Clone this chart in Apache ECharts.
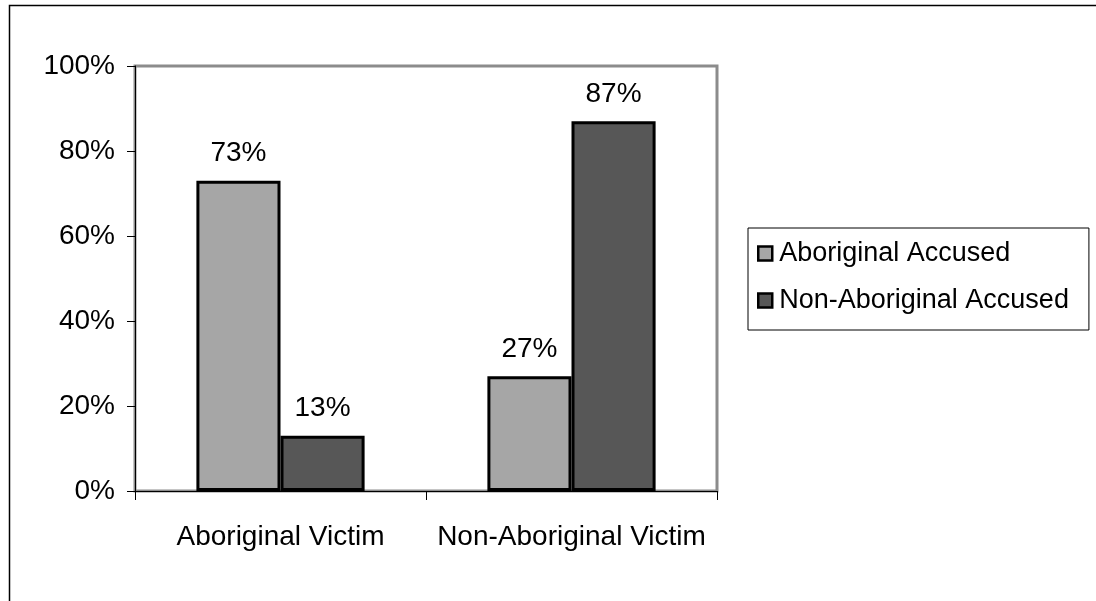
<!DOCTYPE html>
<html>
<head>
<meta charset="utf-8">
<script src="https://cdn.jsdelivr.net/npm/echarts@6/dist/echarts.min.js"></script>
<style>
  html, body { margin: 0; padding: 0; background: #fff; }
  #chart { width: 1096px; height: 601px; }
</style>
</head>
<body>
<div id="chart"></div>
<script>
// data
const categories = ['Aboriginal Victim', 'Non-Aboriginal Victim'];
const seriesNames = ['Aboriginal Accused', 'Non-Aboriginal Accused'];
const aboriginalAccused = [73, 27];
const nonAboriginalAccused = [13, 87];
const barColors = ['#a6a6a6', '#575757'];

const font = 'Liberation Sans, Arial, sans-serif';

const myChart = echarts.init(document.getElementById('chart'));

function barSeries(name, data, color) {
  return {
    name: name,
    type: 'bar',
    data: data,
    barWidth: '28.9%',
    barGap: '0%',
    itemStyle: {
      color: color,
      borderColor: '#000',
      borderWidth: 3
    },
    label: {
      show: true,
      position: 'top',
      distance: 13,
      formatter: '{c}%',
      color: '#000',
      fontSize: 28,
      fontFamily: font
    }
  };
}

const option = {
  animation: false,
  backgroundColor: '#fff',
  graphic: [
    { // outer chart frame
      type: 'rect',
      left: 7,
      top: 3,
      shape: { width: 1200, height: 700 },
      style: { fill: 'none', stroke: '#000', lineWidth: 1.5 },
      z: -1
    }
  ],
  grid: {
    left: 135,
    top: 66,
    right: 379,
    bottom: 110,
    show: true,
    borderColor: '#8c8c8c',
    borderWidth: 3
  },
  legend: {
    orient: 'vertical',
    left: 748,
    top: 228,
    padding: [12, 20, 16, 9],
    itemGap: 20,
    itemWidth: 14,
    itemHeight: 14,
    icon: 'rect',
    borderColor: '#000',
    borderWidth: 1,
    itemStyle: { borderColor: '#000', borderWidth: 2.5 },
    textStyle: { color: '#000', fontSize: 27, fontFamily: font, padding: [0, 0, 0, 2] },
    data: seriesNames
  },
  xAxis: {
    type: 'category',
    data: categories,
    axisLine: { lineStyle: { color: '#000', width: 1 } },
    axisTick: { show: true, length: 9, lineStyle: { color: '#000' } },
    axisLabel: { color: '#000', fontSize: 28, fontFamily: font, margin: 32, interval: 0 }
  },
  yAxis: {
    type: 'value',
    min: 0,
    max: 100,
    interval: 20,
    splitLine: { show: false },
    axisLine: { show: true, lineStyle: { color: '#000', width: 1 } },
    axisTick: { show: true, length: 8, lineStyle: { color: '#000' } },
    axisLabel: { color: '#000', fontSize: 28, fontFamily: font, margin: 20, formatter: '{value}%' }
  },
  series: [
    barSeries(seriesNames[0], aboriginalAccused, barColors[0]),
    barSeries(seriesNames[1], nonAboriginalAccused, barColors[1])
  ]
};

myChart.setOption(option);
</script>
</body>
</html>
